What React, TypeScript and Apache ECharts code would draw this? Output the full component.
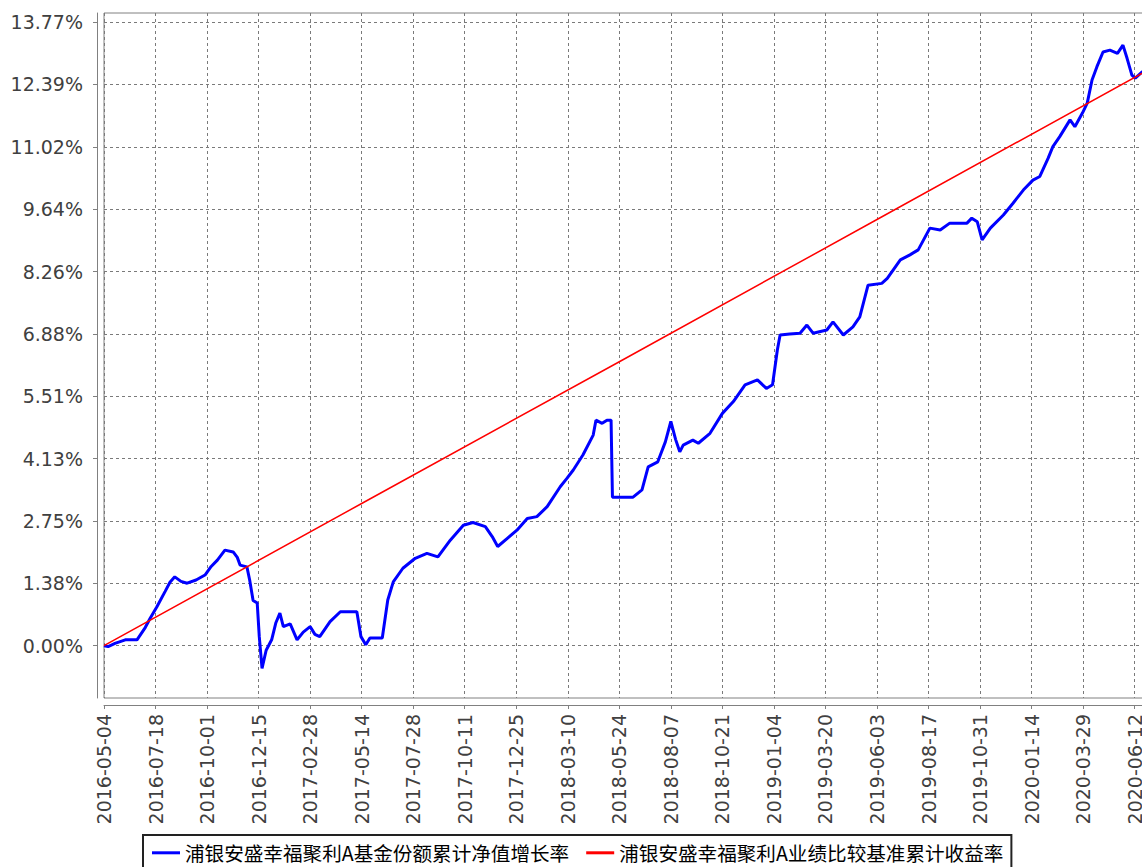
import React, { useEffect, useRef } from 'react';
import * as echarts from 'echarts';

const seriesNames = [
  '浦银安盛幸福聚利A基金份额累计净值增长率',
  '浦银安盛幸福聚利A业绩比较基准累计收益率',
];

const fundDates = [
  '2016-05-04', '2016-05-10', '2016-05-20', '2016-06-04', '2016-06-21', '2016-07-03', '2016-07-10',
  '2016-07-20', '2016-08-01', '2016-08-08', '2016-08-15', '2016-08-24', '2016-09-02', '2016-09-15',
  '2016-09-28', '2016-10-07', '2016-10-16', '2016-10-27', '2016-11-08', '2016-11-14', '2016-11-18',
  '2016-11-28', '2016-12-02', '2016-12-07', '2016-12-13', '2016-12-16', '2016-12-20', '2016-12-26',
  '2017-01-03', '2017-01-09', '2017-01-15', '2017-01-20', '2017-01-30', '2017-02-09', '2017-02-18',
  '2017-02-28', '2017-03-07', '2017-03-14', '2017-03-29', '2017-04-13', '2017-04-27', '2017-05-07',
  '2017-05-13', '2017-05-20', '2017-05-26', '2017-06-13', '2017-06-21', '2017-06-29', '2017-07-13',
  '2017-07-31', '2017-08-17', '2017-09-02', '2017-09-20', '2017-10-09', '2017-10-23', '2017-11-10',
  '2017-11-20', '2017-11-28', '2017-12-12', '2017-12-26', '2018-01-10', '2018-01-24', '2018-02-08',
  '2018-02-27', '2018-03-09', '2018-03-18', '2018-04-01', '2018-04-16', '2018-04-20', '2018-04-29',
  '2018-05-06', '2018-05-12', '2018-05-14', '2018-06-13', '2018-06-26', '2018-07-05', '2018-07-19',
  '2018-07-30', '2018-08-07', '2018-08-14', '2018-08-20', '2018-08-25', '2018-09-08', '2018-09-16',
  '2018-10-03', '2018-10-21', '2018-11-06', '2018-11-23', '2018-12-11', '2018-12-24', '2019-01-02',
  '2019-01-09', '2019-01-13', '2019-01-27', '2019-02-11', '2019-02-21', '2019-03-02', '2019-03-22',
  '2019-03-31', '2019-04-15', '2019-04-29', '2019-05-09', '2019-05-21', '2019-06-10', '2019-06-18',
  '2019-07-07', '2019-07-21', '2019-08-02', '2019-08-19', '2019-09-03', '2019-09-17', '2019-10-12',
  '2019-10-19', '2019-10-27', '2019-11-03', '2019-11-15', '2019-12-04', '2019-12-18', '2020-01-02',
  '2020-01-16', '2020-01-26', '2020-02-07', '2020-02-14', '2020-02-24', '2020-03-10', '2020-03-17',
  '2020-03-28', '2020-04-04', '2020-04-11', '2020-04-18', '2020-04-27', '2020-05-07', '2020-05-18',
  '2020-05-26', '2020-06-01', '2020-06-08', '2020-06-13', '2020-06-23', '2020-06-30',
];

const fundValues = [
  0.0, -0.02, 0.05, 0.13, 0.13, 0.4, 0.6,
  0.86, 1.2, 1.4, 1.52, 1.42, 1.38, 1.45,
  1.56, 1.75, 1.89, 2.11, 2.07, 1.95, 1.78,
  1.74, 1.45, 1.0, 0.94, 0.2, -0.5, -0.1,
  0.13, 0.5, 0.72, 0.42, 0.48, 0.13, 0.3,
  0.42, 0.25, 0.2, 0.53, 0.75, 0.75, 0.75,
  0.2, 0.02, 0.17, 0.17, 1.01, 1.41, 1.71,
  1.93, 2.04, 1.96, 2.33, 2.66, 2.72, 2.63,
  2.41, 2.19, 2.37, 2.55, 2.81, 2.85, 3.07,
  3.51, 3.7, 3.88, 4.21, 4.65, 4.98, 4.91,
  4.98, 4.98, 3.28, 3.28, 3.44, 3.95, 4.06,
  4.5, 4.95, 4.55, 4.28, 4.43, 4.54, 4.47,
  4.69, 5.13, 5.39, 5.76, 5.87, 5.68, 5.76,
  6.53, 6.86, 6.88, 6.9, 7.08, 6.9, 6.97,
  7.15, 6.86, 7.04, 7.26, 7.96, 8.0, 8.11,
  8.52, 8.63, 8.74, 9.22, 9.18, 9.33, 9.33,
  9.44, 9.36, 8.96, 9.22, 9.51, 9.77, 10.06,
  10.28, 10.36, 10.76, 11.02, 11.24, 11.61, 11.46,
  11.76, 11.98, 12.49, 12.78, 13.11, 13.15, 13.08,
  13.26, 12.97, 12.6, 12.53, 12.67, 12.7,
];

const benchDates = ['2016-05-04', '2017-05-14', '2018-05-24', '2019-06-03', '2020-06-30'];
const benchValues = [0.0, 3.14, 6.27, 9.41, 12.7];

const xTickLabels = [
  '2016-05-04', '2016-07-18', '2016-10-01', '2016-12-15', '2017-02-28', '2017-05-14', '2017-07-28',
  '2017-10-11', '2017-12-25', '2018-03-10', '2018-05-24', '2018-08-07', '2018-10-21', '2019-01-04',
  '2019-03-20', '2019-06-03', '2019-08-17', '2019-10-31', '2020-01-14', '2020-03-29', '2020-06-12',
];

const yTickValues = [0, 1.377, 2.754, 4.131, 5.508, 6.885, 8.262, 9.639, 11.016, 12.393, 13.77];

const xStart = '2016-05-04';
const xEnd = '2020-06-30';
const yMin = -1.155;
const yMax = 13.97;

function ts(s: string): number {
  const [y, m, d] = s.split('-').map(Number);
  return new Date(y, m - 1, d).getTime();
}

function pad(n: number): string {
  return n < 10 ? '0' + n : '' + n;
}

function fmtDate(v: number): string {
  const d = new Date(v);
  return `${d.getFullYear()}-${pad(d.getMonth() + 1)}-${pad(d.getDate())}`;
}

const labelFont = 'DejaVu Sans';

export default function App() {
  const ref = useRef<HTMLDivElement>(null);

  useEffect(() => {
    if (!ref.current) return;
    const chart = echarts.init(ref.current, null, { renderer: 'svg' });
    const xTicks = xTickLabels.map(ts);
    const gridLine = { show: true, lineStyle: { color: '#7a7a7a', width: 1, type: [3, 3] as number[] } };
    chart.setOption({
      animation: false,
      backgroundColor: '#ffffff',
      grid: {
        left: 104,
        top: 13,
        right: 11,
        bottom: 169,
        show: true,
        borderColor: '#808080',
        borderWidth: 1,
        backgroundColor: '#ffffff',
      },
      xAxis: {
        type: 'value',
        min: ts(xStart),
        max: ts(xEnd),
        offset: 7,
        axisLine: { show: true, onZero: false, lineStyle: { color: '#808080', width: 1 } },
        axisTick: { show: true, length: 4, customValues: xTicks, lineStyle: { color: '#808080' } },
        axisLabel: {
          customValues: xTicks,
          rotate: 90,
          margin: 9,
          hideOverlap: false,
          formatter: (v: number) => fmtDate(v),
          fontFamily: labelFont,
          fontSize: 19,
          color: '#404040',
        },
        splitLine: gridLine,
      },
      yAxis: {
        type: 'value',
        min: yMin,
        max: yMax,
        offset: 7,
        axisLine: { show: true, onZero: false, lineStyle: { color: '#808080', width: 1 } },
        axisTick: { show: true, length: 4, customValues: yTickValues, lineStyle: { color: '#808080' } },
        axisLabel: {
          customValues: yTickValues,
          margin: 14,
          formatter: (v: number) => v.toFixed(2) + '%',
          fontFamily: labelFont,
          fontSize: 19,
          color: '#404040',
        },
        splitLine: gridLine,
      },
      legend: {
        left: 143,
        top: 835,
        orient: 'horizontal',
        padding: [8, 8, 8, 9],
        itemGap: 17,
        itemWidth: 28,
        itemHeight: 3,
        borderColor: '#222222',
        borderWidth: 2,
        backgroundColor: '#ffffff',
        textStyle: { fontFamily: 'Noto Sans CJK SC', fontSize: 19.6, lineHeight: 19, color: '#000000' },
        data: [
          { name: seriesNames[0], icon: 'rect' },
          { name: seriesNames[1], icon: 'rect' },
        ],
      },
      series: [
        {
          name: seriesNames[0],
          type: 'line',
          symbol: 'none',
          data: fundDates.map((d, i) => [ts(d), fundValues[i]]),
          lineStyle: { color: '#0000ff', width: 3 },
          itemStyle: { color: '#0000ff' },
        },
        {
          name: seriesNames[1],
          type: 'line',
          symbol: 'none',
          data: benchDates.map((d, i) => [ts(d), benchValues[i]]),
          lineStyle: { color: '#ff0000', width: 1.5 },
          itemStyle: { color: '#ff0000' },
        },
      ],
    });
    return () => chart.dispose();
  }, []);

  return (
    <div
      style={{
        position: 'fixed',
        left: 0,
        top: 0,
        width: 1142,
        height: 867,
        overflow: 'hidden',
        background: '#ffffff',
      }}
    >
      <div ref={ref} style={{ width: 1158, height: 867 }} />
    </div>
  );
}
